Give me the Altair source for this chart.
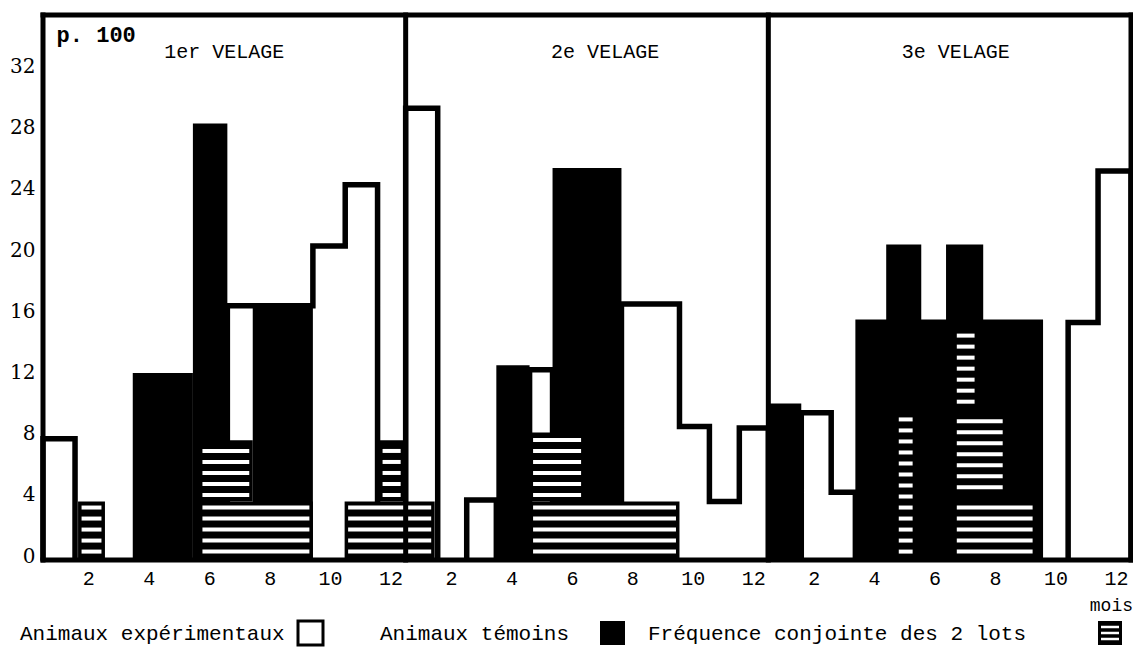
import altair as alt
import pandas as pd

MONO = "Liberation Mono"
SERIF = "DejaVu Serif"

# ---------------- data (global month axis: panel p, month m -> 12*p + m) ----------------
panel_titles = ["1er VELAGE", "2e VELAGE", "3e VELAGE"]
title_x = [6.5, 19.1, 30.7]

# Animaux expérimentaux : white step histogram, contiguous runs (edges, heights)
exp_run_edges = [
    [0.5, 1.56],
    [6.6, 9.43, 10.5, 11.57],
    [12.5, 13.56],
    [14.52, 15.5],
    [16.6, 17.36],
    [19.64, 21.56, 22.55, 23.54, 24.5],
    [25.59, 26.58, 27.38],
    [34.42, 35.41, 36.5],
]
exp_run_values = [
    [7.8],
    [16.5, 20.4, 24.4],
    [29.4],
    [3.8],
    [12.3],
    [16.6, 8.6, 3.7, 8.5],
    [9.5, 4.3],
    [15.4, 25.3],
]

# Animaux témoins : black bars
tem_start = [3.47, 5.46, 7.44, 15.5, 17.36, 24.5, 27.38, 28.4, 30.38]
tem_end = [5.46, 6.6, 9.43, 16.6, 19.64, 25.59, 33.59, 29.56, 31.61]
tem_value = [12.1, 28.4, 16.4, 12.6, 25.5, 10.1, 15.6, 20.5, 20.5]

# Fréquence conjointe des 2 lots : hatched bars
conj_start = [1.66, 5.66, 5.66, 10.48, 11.62, 16.6, 16.6, 28.7, 30.62, 30.62, 30.62]
conj_end = [2.55, 7.44, 9.43, 13.46, 12.45, 18.42, 21.56, 29.39, 31.44, 32.37, 33.36]
conj_low = [0, 3.7, 0, 0, 3.7, 3.7, 0, 0, 9.8, 4.2, 0]
conj_high = [3.7, 7.7, 3.7, 3.7, 7.7, 8.2, 3.7, 9.7, 15.2, 9.8, 4.2]

x_ticks = [2, 4, 6, 8, 10, 12, 14, 16, 18, 20, 22, 24, 26, 28, 30, 32, 34, 36]
y_ticks = [0, 4, 8, 12, 16, 20, 24, 28, 32]
panel_edges = [0.5, 12.5, 24.5, 36.5]
y_min, y_max = -0.13, 35.5

legend_labels = ["Animaux expérimentaux", "Animaux témoins", "Fréquence conjointe des 2 lots"]

# ---------------- tables ----------------
seg_rows, pt_rows = [], []
for r, (edges, vals) in enumerate(zip(exp_run_edges, exp_run_values)):
    for i, v in enumerate(vals):
        seg_rows.append(dict(x0=edges[i], x1=edges[i + 1], lo=0, hi=v))
    k = 0
    pt_rows.append(dict(run=r, k=k, x=edges[0], y=0)); k += 1
    for i, v in enumerate(vals):
        pt_rows.append(dict(run=r, k=k, x=edges[i], y=v)); k += 1
        pt_rows.append(dict(run=r, k=k, x=edges[i + 1], y=v)); k += 1
    pt_rows.append(dict(run=r, k=k, x=edges[-1], y=0))
exp_df = pd.DataFrame(seg_rows)
outline_df = pd.DataFrame(pt_rows)
tem_df = pd.DataFrame(dict(x0=tem_start, x1=tem_end, lo=[0] * len(tem_value), hi=tem_value))
conj_df = pd.DataFrame(dict(x0=conj_start, x1=conj_end, lo=conj_low, hi=conj_high))
vframe_df = pd.DataFrame(dict(x=panel_edges, y0=[y_min] * 4, y1=[y_max] * 4))
hframe_df = pd.DataFrame(dict(y=[y_min, y_max], x0=[0.5, 0.5], x1=[36.5, 36.5]))
title_df = pd.DataFrame(dict(x=title_x, y=[33.1] * 3, t=panel_titles))

W, H = 1088, 545
xs = alt.Scale(domain=[0.5, 36.5], nice=False, zero=False)
ys = alt.Scale(domain=[y_min, y_max], nice=False, zero=False)

x_axis = alt.Axis(values=x_ticks, labelExpr="datum.value % 12 == 0 ? '12' : '' + (datum.value % 12)",
                  ticks=False, domain=False, grid=False, labelFont=MONO, labelFontSize=20,
                  labelColor="black", labelPadding=8, labelFlush=False, labelOverlap=False,
                  title=None)
y_axis = alt.Axis(values=y_ticks, ticks=False, domain=False, grid=False, labelFont=SERIF,
                  labelFontSize=20, labelColor="black", labelPadding=8, labelOverlap=False,
                  labelOffset=-2, title=None)


def X(f):
    return alt.X(f, scale=xs, axis=x_axis)


def Y(f):
    return alt.Y(f, scale=ys, axis=y_axis)


white_fill = alt.Chart(exp_df).mark_rect(fill="white").encode(
    x=X("x0:Q"), x2="x1:Q", y=Y("lo:Q"), y2="hi:Q")

outline = alt.Chart(outline_df).mark_line(color="black", strokeWidth=5.5, strokeJoin="miter",
                                          strokeCap="square").encode(
    x=X("x:Q"), y=Y("y:Q"), detail="run:N", order="k:Q")

black = alt.Chart(tem_df).mark_rect(fill="black").encode(
    x=X("x0:Q"), x2="x1:Q", y=Y("lo:Q"), y2="hi:Q")

hatch = alt.Chart(conj_df).mark_rect(fill="black").encode(
    x=X("x0:Q"), x2="x1:Q", y=Y("lo:Q"), y2="hi:Q")

stripes = alt.Chart(conj_df).transform_calculate(
    s="sequence(datum.lo + 0.42, datum.hi - 0.22, 0.72)"
).transform_flatten(["s"]).mark_rule(color="white", strokeWidth=4, xOffset=3.5, x2Offset=-3.5).encode(
    x=X("x0:Q"), x2="x1:Q", y=Y("s:Q"))

vframe = alt.Chart(vframe_df).mark_rule(color="black", strokeWidth=5, strokeCap="square").encode(
    x=X("x:Q"), y=Y("y0:Q"), y2="y1:Q")
hframe = alt.Chart(hframe_df).mark_rule(color="black", strokeWidth=5, strokeCap="square").encode(
    y=Y("y:Q"), x=X("x0:Q"), x2="x1:Q")

titles = alt.Chart(title_df).mark_text(font=MONO, fontSize=20, color="black").encode(
    x=X("x:Q"), y=Y("y:Q"), text="t:N")

p100 = alt.Chart(pd.DataFrame(dict(x=[0.95], y=[34.2], t=["p. 100"]))).mark_text(
    font=MONO, fontSize=22, fontWeight="bold", align="left", color="black").encode(
    x=X("x:Q"), y=Y("y:Q"), text="t:N")

mois = alt.Chart(pd.DataFrame(dict(t=["mois"]))).mark_text(
    font=MONO, fontSize=18, align="right", color="black").encode(
    x=alt.value(1090), y=alt.value(591), text="t:N")

# legend (decoration)
leg_text = alt.Chart(pd.DataFrame(dict(t=legend_labels, px=[-23, 337, 605]))).mark_text(
    font=MONO, fontSize=21, align="left", color="black").encode(
    x=alt.X("px:Q", scale=None), y=alt.value(619), text="t:N")
leg_box1 = alt.Chart(pd.DataFrame(dict(a=[0]))).mark_rect(fill="white", stroke="black", strokeWidth=3).encode(
    x=alt.value(255), x2=alt.value(280), y=alt.value(606), y2=alt.value(630))
leg_box2 = alt.Chart(pd.DataFrame(dict(a=[0]))).mark_rect(fill="black").encode(
    x=alt.value(557), x2=alt.value(582), y=alt.value(606), y2=alt.value(630))
leg_box3 = alt.Chart(pd.DataFrame(dict(a=[0]))).mark_rect(fill="black").encode(
    x=alt.value(1055), x2=alt.value(1079), y=alt.value(606), y2=alt.value(630))
leg_str = alt.Chart(pd.DataFrame(dict(py=[612, 618, 624]))).mark_rule(color="white", strokeWidth=2.5).encode(
    x=alt.value(1058), x2=alt.value(1076), y=alt.Y("py:Q", scale=None))

chart = alt.layer(
    white_fill, outline, black, hatch, stripes, vframe, hframe, titles, p100, mois,
    leg_text, leg_box1, leg_box2, leg_box3, leg_str
).properties(
    width=W, height=H,
    autosize=alt.AutoSizeParams(type="none"),
    padding={"left": 43, "top": 15, "right": 2, "bottom": 93},
).configure_view(stroke=None).configure(background="white")

chart.save("out.html", embed_options={"renderer": "svg", "actions": False})
